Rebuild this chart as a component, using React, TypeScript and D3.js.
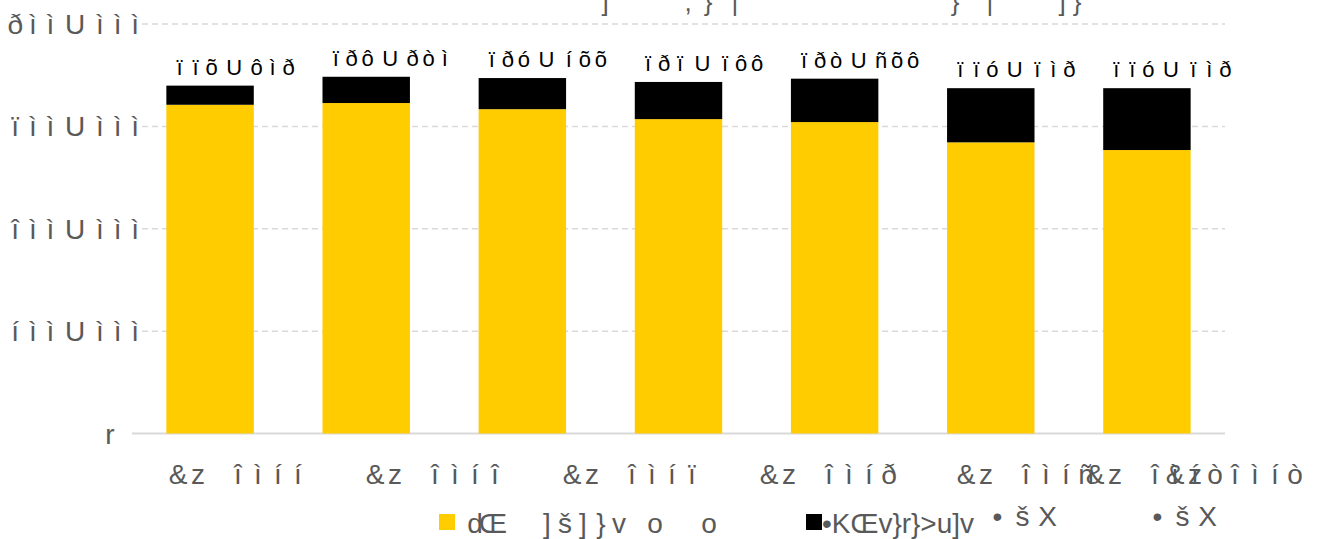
import React from 'react';
import * as d3 from 'd3';

// labels are kept exactly as the source renders them (garbled font mapping)
const categories = ['&z îìíí', '&z îìíî', '&z îìíï', '&z îìíð', '&z îìíñ', '&z îìíò', '&z îìíò'];
const traditional = [321100, 322800, 316800, 307100, 304200, 284400, 276900];
const totals = [339804, 348460, 347199, 343388, 346598, 337304, 337304];
const totalLabels = ['ïïõUôìð', 'ïðôUðòì', 'ïðóUíõõ', 'ïðïUïôô', 'ïðòUñõô', 'ïïóUïìð', 'ïïóUïìð'];
const yTicks = [0, 100000, 200000, 300000, 400000];
const yTickLabels = ['r', 'íììUììì', 'îììUììì', 'ïììUììì', 'ðììUììì'];
const legendLabels = ['dŒ  ]š]}v o  o', '•KŒv}r}>u]v'];
const legendExtra = ['•šX', '•šX'];
const titleBits = [']', ',', '}', '|', '}', '|', ']', '}'];

const W = 1332;
const H = 539;
const FONT = '"Liberation Sans Narrow", "Liberation Sans", Arial, sans-serif';
const GREY = '#595959';

// each glyph sits in its own fixed-width cell, as in the source
function cells(text: string, start: number, adv: (c: string) => number) {
  const xs: number[] = [];
  let x = start;
  for (const c of text) {
    const a = adv(c);
    xs.push(x + a / 2);
    x += a;
  }
  return xs;
}

function Glyphs(props: {text: string; xs: number[]; y: number; size: number; fill: string; weight?: string}) {
  const chars = Array.from(props.text);
  return (
    <text y={props.y} fontSize={props.size} fill={props.fill} fontFamily={FONT} fontWeight={props.weight}
      textAnchor="middle">
      {chars.map((c, i) => (
        <tspan key={i} x={props.xs[i]}>{c === ' ' ? '\u00a0' : c}</tspan>
      ))}
    </text>
  );
}

export default function App() {
  const left = 132;
  const right = 1225;
  const x = d3.scaleBand<number>().domain(d3.range(categories.length)).range([left, right]).paddingInner(0.44).paddingOuter(0.22);
  const y = d3.scaleLinear().domain([0, 400000]).range([433.5, 24]);

  const rows = categories.map((c, i) => ({i, trad: traditional[i], non: totals[i] - traditional[i]}));
  const stack = d3.stack<any>().keys(['trad', 'non'])(rows);
  const colors = ['#FFCC00', '#000000'];

  const tickAdv = (c: string) => (c === 'U' ? 32 : c === 'r' ? 68 : 17.6);
  const labAdv = (c: string) => (c === 'U' ? 29 : 16);
  const width = (t: string, adv: (c: string) => number) => Array.from(t).reduce((s, c) => s + adv(c), 0);

  // category labels: source lays them out wider than the bands, last two get squeezed
  const catAdv = () => 20;
  const catStart = d3.scaleLinear().domain([0, 4]).range([168, 168 + 197 * 4]);
  const catStarts = categories.map((c, i) => (i < 5 ? catStart(i) : i === 5 ? 1085 : 1165));

  const titleX = [605, 688, 708, 735, 955, 990, 1062, 1077];

  return (
    <svg width={W} height={H} style={{position: 'absolute', left: 0, top: 0}}>
      <rect width={W} height={H} fill="#fff" />
      {/* title, mostly clipped by the top edge */}
      <Glyphs text={titleBits.join('')} xs={titleX} y={11} size={26} fill={GREY} />

      {yTicks.map((t, i) => (
        <g key={t}>
          {t > 0 ? (
            <line x1={142} x2={right} y1={y(t)} y2={y(t)} stroke="#d9d9d9" strokeWidth={1.5} strokeDasharray="6,4" />
          ) : (
            <line x1={left} x2={right} y1={y(t)} y2={y(t)} stroke="#d9d9d9" strokeWidth={2} />
          )}
          <Glyphs text={yTickLabels[i]} xs={cells(yTickLabels[i], 144 - width(yTickLabels[i], tickAdv), tickAdv)}
            y={y(t) + 10} size={28} fill={GREY} />
        </g>
      ))}

      {stack.map((s, k) => (
        <g key={k} fill={colors[k]}>
          {s.map((d: any, i: number) => (
            <rect key={i} x={x(i)} width={x.bandwidth()} y={y(d[1])} height={y(d[0]) - y(d[1])} />
          ))}
        </g>
      ))}

      {totals.map((v, i) => {
        const t = totalLabels[i];
        const cx = (x(i) as number) + x.bandwidth() / 2 + 24;
        return (
          <Glyphs key={i} text={t} xs={cells(t, cx - width(t, labAdv) / 2, labAdv)} y={y(v) - 11} size={22} fill="#000" />
        );
      })}

      {categories.map((c, i) => (
        <Glyphs key={i} text={c} xs={cells(c, catStarts[i], catAdv)} y={484} size={28} fill={GREY} />
      ))}

      {/* legend */}
      <rect x={439} y={514} width={16} height={16} fill={colors[0]} />
      <Glyphs text={legendLabels[0]} xs={cells(legendLabels[0], 466, () => 18)} y={533} size={28} fill={GREY} />
      <rect x={806} y={514} width={16} height={16} fill={colors[1]} />
      <text x={822} y={533} fontSize={28} fill={GREY} fontFamily={FONT} textLength={152} lengthAdjust="spacingAndGlyphs">
        {legendLabels[1]}
      </text>
      <Glyphs text={legendExtra[0]} xs={cells(legendExtra[0], 985, () => 25)} y={526} size={28} fill={GREY} />
      <Glyphs text={legendExtra[1]} xs={cells(legendExtra[1], 1145, () => 25)} y={526} size={28} fill={GREY} />
    </svg>
  );
}
